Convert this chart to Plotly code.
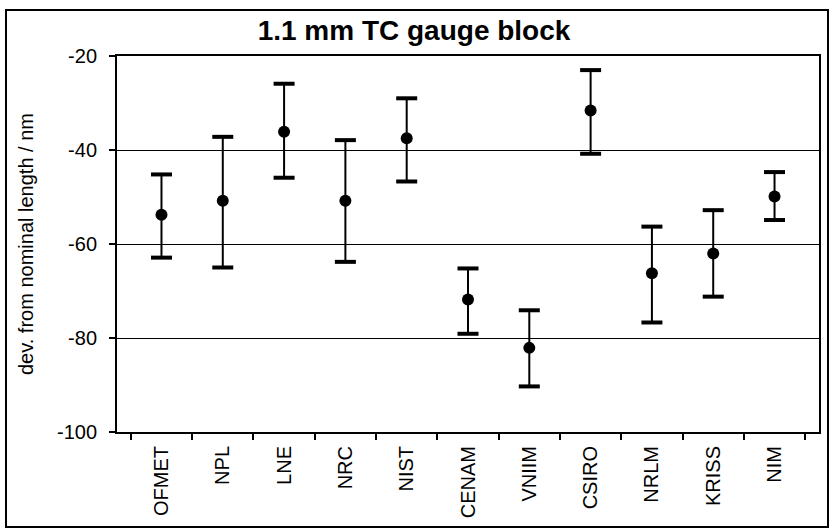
import plotly.graph_objects as go

labs = ["OFMET", "NPL", "LNE", "NRC", "NIST", "CENAM", "VNIIM", "CSIRO", "NRLM", "KRISS", "NIM"]
dev = [-53.8, -50.8, -36.1, -50.8, -37.5, -71.8, -82.1, -31.6, -66.2, -62.0, -49.9]
upper = [-45.2, -37.2, -25.9, -37.9, -29.0, -65.2, -74.1, -23.0, -56.3, -52.8, -44.7]
lower = [-62.9, -65.0, -45.9, -63.8, -46.7, -79.1, -90.3, -40.8, -76.7, -71.2, -54.9]
yticks = [-100, -80, -60, -40, -20]
ytick_text = ["-100", "-80", "-60", "-40", "-20"]

plus = [u - d for u, d in zip(upper, dev)]
minus = [d - l for d, l in zip(dev, lower)]

FONT = "Liberation Sans, Arial, sans-serif"
W, H = 833, 531
L, R, T, B = 117, 14, 56, 99
pw, ph = W - L - R, H - T - B

fig = go.Figure()
fig.add_trace(go.Scatter(
    x=labs, y=dev, mode="markers",
    marker=dict(symbol="circle", size=12, color="black"),
    error_y=dict(type="data", symmetric=False, array=plus, arrayminus=minus,
                 color="black", thickness=2, width=0),
    showlegend=False))
fig.add_trace(go.Scatter(
    x=labs + labs, y=upper + lower, mode="markers",
    marker=dict(symbol="line-ew", size=15, color="black",
                line=dict(color="black", width=4)),
    showlegend=False, hoverinfo="skip"))

fig.update_layout(
    width=W, height=H, autosize=False,
    margin=dict(l=L, r=R, t=T, b=B),
    paper_bgcolor="white", plot_bgcolor="white",
    font=dict(family=FONT, color="black", size=20),
    title=dict(text="<b>1.1 mm TC gauge block</b>", x=414 / W, xref="container",
               xanchor="center", y=1 - 30 / H, yref="container", yanchor="middle",
               font=dict(family=FONT, size=28, color="black")),
    xaxis=dict(type="category", showline=True, linecolor="black", linewidth=2,
               mirror=True, ticks="outside", tickson="boundaries", ticklen=6,
               tickwidth=1.5, tickcolor="black", tickangle=-90, showgrid=False,
               tickfont=dict(size=20), ticklabelstandoff=4),
    yaxis=dict(range=[-100, -20], tickvals=yticks, ticktext=ytick_text,
               showline=True, linecolor="black",
               linewidth=2, mirror=True, ticks="outside", ticklen=6, tickwidth=1.5,
               tickcolor="black", showgrid=True, gridcolor="black", gridwidth=1,
               zeroline=False, tickfont=dict(size=20), ticklabelstandoff=8),
    shapes=[dict(type="rect", xref="paper", yref="paper",
                 x0=(6 - L) / pw, x1=(828 - L) / pw,
                 y0=(H - B - 527) / ph, y1=(H - B - 10) / ph,
                 line=dict(color="black", width=2), fillcolor="rgba(0,0,0,0)",
                 layer="below")],
    annotations=[dict(text="dev. from nominal length / nm", textangle=-90,
                      xref="paper", yref="paper", x=(26 - L) / pw, y=0.5,
                      xanchor="center", yanchor="middle", showarrow=False,
                      font=dict(family=FONT, size=20, color="black"))],
)

fig.write_html("out.html",
               config={"displayModeBar": False},
               post_script="document.body.style.margin='0';"
                           "document.body.style.overflow='hidden';")
